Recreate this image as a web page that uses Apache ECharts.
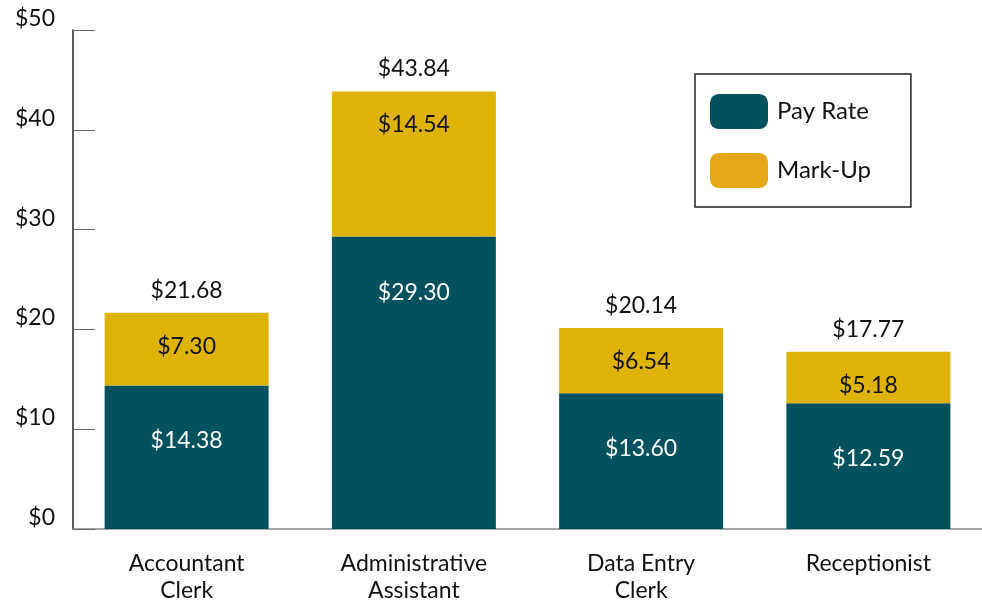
<!DOCTYPE html>
<html>
<head>
<meta charset="utf-8">
<script src="https://cdn.jsdelivr.net/npm/echarts@6/dist/echarts.min.js"></script>
<style>
  html, body { margin: 0; padding: 0; background: #fff; }
  #chart { width: 982px; height: 604px; }
</style>
</head>
<body>
<div id="chart"></div>
<script>
// job titles and hourly rates
const categories = ['Accountant\nClerk', 'Administrative\nAssistant', 'Data Entry\nClerk', 'Receptionist'];
const payRate = [14.38, 29.30, 13.60, 12.59];
const markUp = [7.30, 14.54, 6.54, 5.18];
const totals = [21.68, 43.84, 20.14, 17.77];
const yTicks = [0, 10, 20, 30, 40, 50];

const teal = '#01525E';
const gold = '#DEB306';
const font = 'Lato';

const money = v => '$' + Number(v).toFixed(2);

const chart = echarts.init(document.getElementById('chart'));

chart.setOption({
  animation: false,
  textStyle: { fontFamily: font },
  grid: { left: 73, top: 30, width: 912, height: 504, containLabel: false },
  legend: {
    left: 695,
    top: 74,
    orient: 'vertical',
    borderColor: '#222',
    borderWidth: 1.5,
    padding: [20, 40, 19, 15],
    itemWidth: 58,
    itemHeight: 35,
    itemGap: 24,
    textStyle: { fontFamily: font, fontSize: 24, color: '#111', padding: [0, 0, 0, 4] },
    data: [
      { name: 'Pay Rate', itemStyle: { color: teal } },
      { name: 'Mark-Up', itemStyle: { color: '#E6A719' } }
    ]
  },
  xAxis: {
    type: 'category',
    data: categories,
    axisLine: { lineStyle: { color: '#888', width: 1.5 } },
    axisTick: { inside: true, length: 13, lineStyle: { color: '#666' } },
    axisLabel: { fontFamily: font, fontSize: 23, color: '#111', margin: 21, lineHeight: 27 }
  },
  yAxis: {
    type: 'value',
    min: yTicks[0],
    max: yTicks[yTicks.length - 1],
    interval: 10,
    splitLine: { show: false },
    axisLine: { show: true, lineStyle: { color: '#222', width: 1.5 } },
    axisTick: { show: true, inside: true, length: 22, lineStyle: { color: '#666' } },
    axisLabel: { fontFamily: font, fontSize: 23, color: '#111', margin: 18, formatter: v => '$' + v, verticalAlign: 'bottom' }
  },
  series: [
    {
      name: 'Pay Rate',
      type: 'bar',
      stack: 'cost',
      barWidth: 164,
      data: payRate,
      itemStyle: { color: teal },
      label: {
        show: true,
        position: 'insideTop',
        distance: 44,
        fontFamily: font,
        fontSize: 23,
        color: '#fff',
        formatter: p => money(p.value)
      }
    },
    {
      name: 'Mark-Up',
      type: 'bar',
      stack: 'cost',
      barWidth: 164,
      data: markUp,
      itemStyle: { color: gold },
      label: {
        show: true,
        position: 'insideTop',
        distance: 22,
        fontFamily: font,
        fontSize: 23,
        color: '#111',
        formatter: p => money(p.value)
      }
    },
    {
      name: 'Total',
      type: 'scatter',
      symbolSize: 0,
      data: totals,
      itemStyle: { opacity: 1 },
      label: {
        show: true,
        position: 'top',
        distance: 11,
        fontFamily: font,
        fontSize: 23,
        color: '#111',
        formatter: p => money(p.value)
      }
    }
  ]
});
</script>
</body>
</html>
